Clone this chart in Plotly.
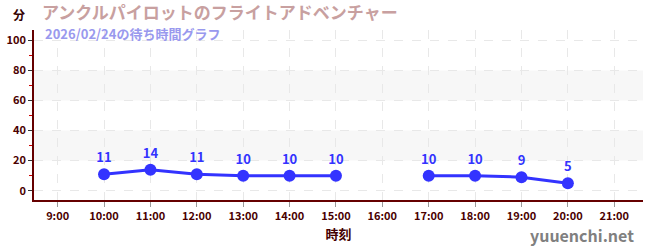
import plotly.graph_objects as go

hours = [10, 11, 12, 13, 14, 15, 16, 17, 18, 19, 20]
waits = [11, 14, 11, 10, 10, 10, None, 10, 10, 9, 5]
tick_hours = list(range(9, 22))
tick_labels = [f"{h}:00" for h in tick_hours]
title_text = "アンクルパイロットのフライトアドベンチャー"
subtitle_text = "2026/02/24の待ち時間グラフ"

FONT = "Noto Sans CJK JP"

fig = go.Figure()
fig.add_trace(go.Scatter(
    x=hours, y=waits, mode="lines+markers+text",
    line=dict(color="#3333ff", width=3),
    marker=dict(color="#3333ff", size=12),
    text=[("" if v is None else str(v)) for v in waits],
    textposition="top center",
    textfont=dict(color="#3333ff", size=13, family=FONT, weight="bold"),
    connectgaps=False, hoverinfo="skip", showlegend=False,
))

for y0, y1 in [(20, 40), (60, 80)]:
    fig.add_shape(type="rect", xref="paper", x0=0, x1=1, yref="y", y0=y0, y1=y1,
                  fillcolor="#f7f7f7", line=dict(width=0), layer="below")

fig.update_layout(
    width=650, height=250,
    margin=dict(l=30, r=7, t=30, b=50),
    paper_bgcolor="white", plot_bgcolor="white",
    font=dict(family=FONT),
    xaxis=dict(
        range=[8.49, 21.62], tickvals=tick_hours, ticktext=tick_labels,
        showgrid=True, gridcolor="#e8e8e8", griddash="dash", gridwidth=1,
        showline=True, linecolor="#660000", linewidth=1.5,
        ticks="outside", ticklen=5, tickcolor="#999999",
        tickfont=dict(size=11, color="#4a0000", family=FONT, weight="bold"),
        title=dict(text="時刻", font=dict(size=13, color="#440000", family=FONT, weight="bold"), standoff=8),
        zeroline=False,
    ),
    yaxis=dict(
        range=[-6.2, 106.9], tickvals=[0, 20, 40, 60, 80, 100],
        showgrid=True, gridcolor="#e8e8e8", griddash="dash", gridwidth=1,
        showline=True, linecolor="#660000", linewidth=1.5,
        ticks="outside", ticklen=4, tickcolor="#333333",
        tickfont=dict(size=11, color="#4a0000", family=FONT, weight="bold"),
        minor=dict(dtick=10, tick0=10, ticks="outside", ticklen=3, tickcolor="#cc0000", showgrid=False),
        zeroline=False,
    ),
    annotations=[
        dict(text="<b>" + title_text + "</b>", xref="paper", yref="paper", x=0.0, y=1.0, xshift=6, yshift=19,
             xanchor="left", yanchor="middle", showarrow=False,
             font=dict(size=17, color="#c8a0a0", family=FONT)),
        dict(text="<b>" + subtitle_text + "</b>", xref="paper", yref="paper", x=0.0, y=1.0, xshift=9, yshift=-3,
             xanchor="left", yanchor="middle", showarrow=False,
             font=dict(size=13, color="#9999ee", family=FONT)),
        dict(text="<b>分</b>", xref="paper", yref="paper", x=0.0, y=1.0, xshift=-15, yshift=16,
             xanchor="center", yanchor="middle", showarrow=False,
             font=dict(size=12, color="#330000", family=FONT)),
        dict(text="<b>yuuenchi.net</b>", xref="paper", yref="paper", x=1.0, y=0.0, xshift=-7, yshift=-35,
             xanchor="right", yanchor="middle", showarrow=False,
             font=dict(size=16, color="#808080", family=FONT)),
    ],
)

fig.write_html("out.html")
